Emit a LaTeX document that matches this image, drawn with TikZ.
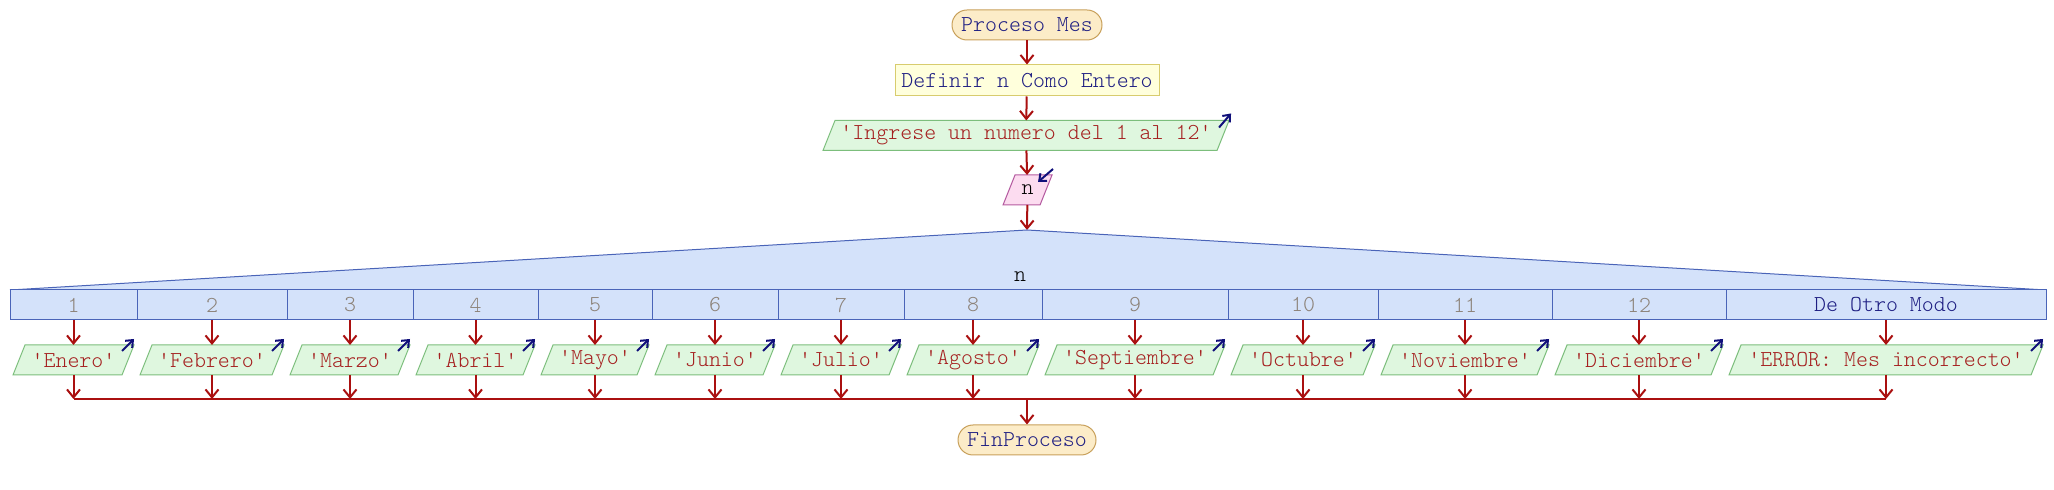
\documentclass[tikz,border=0pt]{standalone}
\usepackage{tikz}
\usetikzlibrary{arrows.meta,backgrounds}

\begin{document}
\begin{tikzpicture}[x=0.5pt,y=-0.5pt,
  every node/.style={font=\ttfamily\fontseries{l}\fontsize{11.4}{13}\selectfont},
  flow/.style={draw=flowRed,line width=1pt,-{Straight Barb[length=4pt,width=6.5pt]}},
  flowline/.style={draw=flowRed,line width=1pt},
  icon/.style={draw=iconNavy,line width=1pt,-{Straight Barb[length=3pt,width=5pt]}},
  terminal/.style={rectangle,rounded corners=7.5pt,draw=termLine,fill=termFill,text=textNavy,
    line width=0.5pt,minimum height=15pt,inner sep=0pt},
  defbox/.style={rectangle,draw=defLine,fill=defFill,text=textNavy,line width=0.5pt,
    minimum height=15.5pt,inner sep=0pt},
  outbox/.style={rectangle,text=outText,minimum height=15pt,inner sep=0pt,outer sep=0pt},
  inbox/.style={rectangle,text=black,minimum height=15pt,inner sep=0pt,outer sep=0pt},
  outshape/.style={draw=outLine,fill=outFill,line width=0.5pt},
  inshape/.style={draw=inLine,fill=inFill,line width=0.5pt},
  casecell/.style={rectangle,draw=caseLine,fill=caseFill,text=caseNum,line width=0.5pt,
    minimum height=15pt,inner sep=0pt,outer sep=0pt}]
\definecolor{flowRed}{HTML}{AA1010}
\definecolor{iconNavy}{HTML}{10107A}
\definecolor{textNavy}{HTML}{1E1E82}
\definecolor{termFill}{HTML}{FCECC8}
\definecolor{termLine}{HTML}{C8A05A}
\definecolor{defFill}{HTML}{FFFFDC}
\definecolor{defLine}{HTML}{D8CC6E}
\definecolor{outFill}{HTML}{DFF7DF}
\definecolor{outLine}{HTML}{7CBE7C}
\definecolor{outText}{HTML}{A52020}
\definecolor{inFill}{HTML}{FCDCF0}
\definecolor{inLine}{HTML}{B45AA0}
\definecolor{caseFill}{HTML}{D4E2FA}
\definecolor{caseLine}{HTML}{4A64B8}
\definecolor{caseNum}{HTML}{8C8278}
\useasboundingbox (0,0) rectangle (2054,490);

\node[terminal,minimum width=75pt] (inicio) at (1027,25) {Proceso Mes};
\node[defbox,minimum width=132pt] (definir) at (1027,80.5) {Definir n Como Entero};
\node[outbox,minimum width=197pt] (pedir) at (1026,135.5) {'Ingrese un numero del 1 al 12'};
\node[inbox,minimum width=18.5pt] (leer) at (1027.5,190) {n};
\coordinate (apex) at (1027,230);
\coordinate (join) at (1027,399);
\node[terminal,minimum width=69pt] (fin) at (1027,440) {FinProceso};
\begin{pgfonlayer}{background}
\filldraw[outshape] ([xshift=-3pt]pedir.south west) -- ([xshift=3pt]pedir.north west)
  -- ([xshift=3pt]pedir.north east) -- ([xshift=-3pt]pedir.south east) -- cycle;
\filldraw[inshape] ([xshift=-3pt]leer.south west) -- ([xshift=3pt]leer.north west)
  -- ([xshift=3pt]leer.north east) -- ([xshift=-3pt]leer.south east) -- cycle;
\end{pgfonlayer}

\draw[flow] (inicio) -- (definir);
\draw[flow] (definir) -- (pedir);
\draw[flow] (pedir) -- (leer);
\draw[flow] (leer) -- (apex);
\draw[icon] ([xshift=3pt]pedir.north east) ++(-10,7) -- ++(12,-14);
\draw[icon] ([xshift=3pt]leer.north east) ++(1,-6) -- ++(-15,13);

% casos del Segun
\fill[caseFill] (10,290) -- (apex) -- (2046,290) -- cycle;
\draw[caseLine,line width=0.5pt] (10,290) -- (apex) -- (2046,290);
\node[text=black] (selector) at (1020,277) {n};
\foreach \i/\a/\b/\txt in {1/10/137/'Enero',2/137/287/'Febrero',3/287/413/'Marzo',
    4/413/538/'Abril',5/538/652/'Mayo',6/652/778/'Junio',7/778/904/'Julio',
    8/904/1042/'Agosto',9/1042/1228/'Septiembre',10/1228/1378/'Octubre',
    11/1378/1552/'Noviembre',12/1552/1726/'Diciembre',
    13/1726/2046/'ERROR: Mes incorrecto'} {
  \node[casecell,minimum width={(\b-\a)*0.5pt}] (c\i) at ({(\a+\b)/2},305) {\ifnum\i<13 \i\fi};
  \node[outbox,minimum width={(\b-\a-18)*0.5pt}] (o\i) at ({(\a+\b)/2},360) {\txt};
  \begin{pgfonlayer}{background}
  \filldraw[outshape] ([xshift=-3pt]o\i.south west) -- ([xshift=3pt]o\i.north west)
    -- ([xshift=3pt]o\i.north east) -- ([xshift=-3pt]o\i.south east) -- cycle;
  \end{pgfonlayer}
  \draw[icon] ([xshift=3pt]o\i.north east) ++(-12,6) -- ++(12,-12);
}
\node[text=textNavy] at (c13) {De Otro Modo};

\foreach \i in {1,...,13} {
  \draw[flow] (c\i.south) -- (o\i.north);
  \draw[flow] (o\i.south) -- (o\i.south |- join);
}
\draw[flowline] (o1.south |- join) -- (o13.south |- join);
\draw[flow] (join) -- (fin);
\end{tikzpicture}
\end{document}
